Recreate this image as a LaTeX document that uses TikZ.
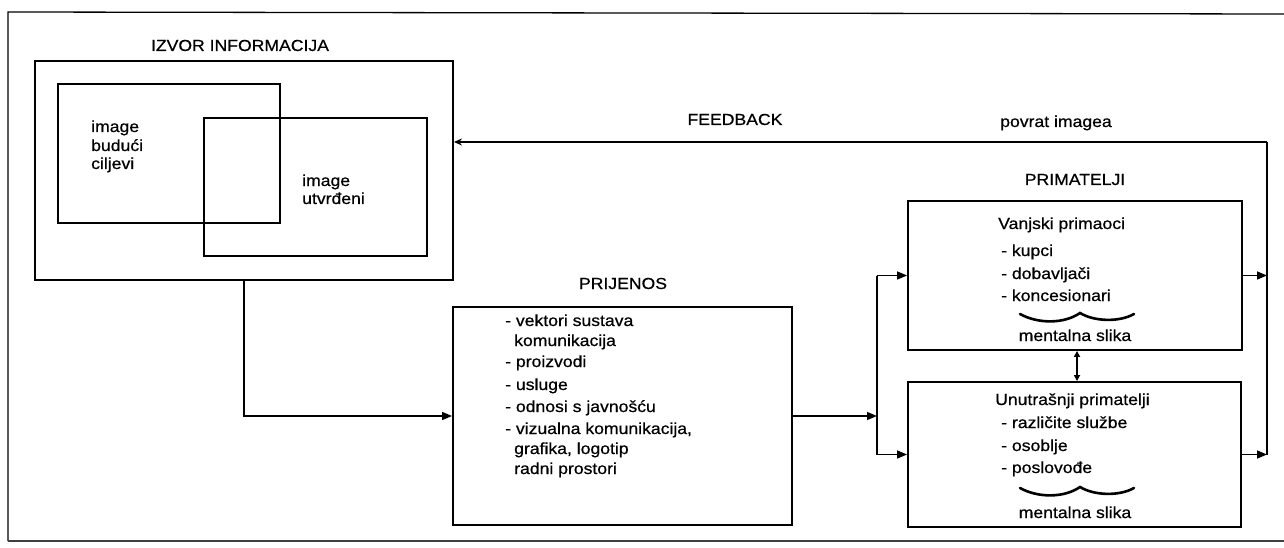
\documentclass[tikz,border=0pt]{standalone}
\usepackage{fontspec}
\setmainfont{Liberation Sans}[FakeStretch=1.1,FakeBold=0.6]
\usetikzlibrary{arrows.meta}
\begin{document}
\begin{tikzpicture}[x=1pt,y=-1pt,
  frame/.style={line width=1.3pt},
  box/.style={draw, line width=1.9pt, inner sep=0pt},
  ibox/.style={draw, line width=1.6pt, inner sep=0pt},
  conn/.style={line width=1.5pt},
  arr/.style={conn, -{Triangle[length=10pt,width=8pt]}},
  fb/.style={conn, -{Stealth[length=8pt,width=7pt]}},
  dbl/.style={conn, {Triangle[length=6pt,width=6pt]}-{Triangle[length=6pt,width=6pt]}},
  txt/.style={inner sep=0pt, font=\fontsize{16}{19}\selectfont, text height=11.5pt, text depth=3.5pt, anchor=west},
  ctxt/.style={txt, anchor=center},
  ttl/.style={inner sep=0pt, font=\fontsize{16}{19}\selectfont, text height=11.5pt, text depth=3.5pt},
  wave/.style={line width=2.6pt, line cap=round}]
\path[use as bounding box] (0,0) rectangle (1284,548);
% outer frame (open on the right)
\draw[frame] (1284,14) -- (8,12) -- (8,541);
\draw[frame, black!75] (8,541) -- (1284,541);

% boxes
\node[box, minimum width=418pt, minimum height=219pt] (izvor) at (244,170.5) {};
\node[ibox, minimum width=222pt, minimum height=139pt] (ib1) at (169,153.5) {};
\node[ibox, minimum width=223pt, minimum height=138pt] (ib2) at (315.5,187) {};
\node[box, minimum width=339pt, minimum height=218pt] (prijenos) at (622.5,416) {};
\node[box, minimum width=334pt, minimum height=149pt] (vanjski) at (1075,275.5) {};
\node[box, minimum width=333pt, minimum height=145pt] (unut) at (1074.5,454.5) {};

% titles
\node[ttl] (tizvor) at (240,47) {IZVOR INFORMACIJA};
\node[ttl] (tfeed) at (735,121) {FEEDBACK};
\node[ttl] (tpovrat) at (1056,123) {povrat imagea};
\node[ttl] (tprim) at (1075,181) {PRIMATELJI};
\node[ttl] (tprij) at (623,285) {PRIJENOS};

% izvor texts
\node[txt] (i1) at (91,128) {image};
\node[txt] (i2) at (91,147) {budući};
\node[txt] (i3) at (91,165) {ciljevi};
\node[txt] (i4) at (302,182) {image};
\node[txt] (i5) at (302,200) {utvrđeni};

% prijenos texts
\foreach \x/\y/\t [count=\k] in {505/322/{- vektori sustava}, 514/342/{komunikacija}, 505/363/{- proizvodi}, 505/386/{- usluge}, 505/408/{- odnosi s javnošću}, 505/430/{- vizualna komunikacija,}, 514/450/{grafika, logotip}, 514/470/{radni prostori}}
  \node[txt] (p\k) at (\x,\y) {\t};

% vanjski texts
\foreach \x/\y/\t [count=\k] in {998/225/{Vanjski primaoci}, 1001/252/{- kupci}, 1001/275/{- dobavljači}, 1001/297/{- koncesionari}}
  \node[txt] (v\k) at (\x,\y) {\t};
\node[ctxt] (vm) at (1075,337) {mentalna slika};
\draw[wave] (1020,314) .. controls (1038,324) and (1064,324) .. (1080,313) .. controls (1095,322) and (1120,322) .. (1134,314);

% unutrasnji texts
\foreach \x/\y/\t [count=\k] in {995/401/{Unutrašnji primatelji}, 1001/424/{- različite službe}, 1001/447/{- osoblje}, 1001/469/{- poslovođe}}
  \node[txt] (u\k) at (\x,\y) {\t};
\node[ctxt] (um) at (1075,514) {mentalna slika};
\draw[wave] (1020,488) .. controls (1038,498) and (1064,498) .. (1080,487) .. controls (1095,496) and (1120,496) .. (1134,488);

% connectors
\draw[arr] (izvor.south) |- (prijenos.west);
\coordinate (sp) at (877,416);
\coordinate (jt) at (877,275.5);
\coordinate (jb) at (877,454.5);
\draw[arr] (prijenos.east) -- (sp);
\draw[conn] (jt) -- (jb);
\draw[arr] (jt) -- (vanjski.west);
\draw[arr] (jb) -- (unut.west);
\draw[dbl] ([xshift=2pt]vanjski.south) -- ([xshift=2.5pt]unut.north);

\coordinate (rt) at (1267,275.5);
\coordinate (rb) at (1267,454.5);
\coordinate (rtop) at (1267,142);
\draw[arr] (vanjski.east) -- (rt);
\draw[arr] (unut.east) -- (rb);
\draw[conn] (rb) -- (rtop);
\draw[fb] (rtop) -- (izvor.east |- rtop);
\end{tikzpicture}
\end{document}
